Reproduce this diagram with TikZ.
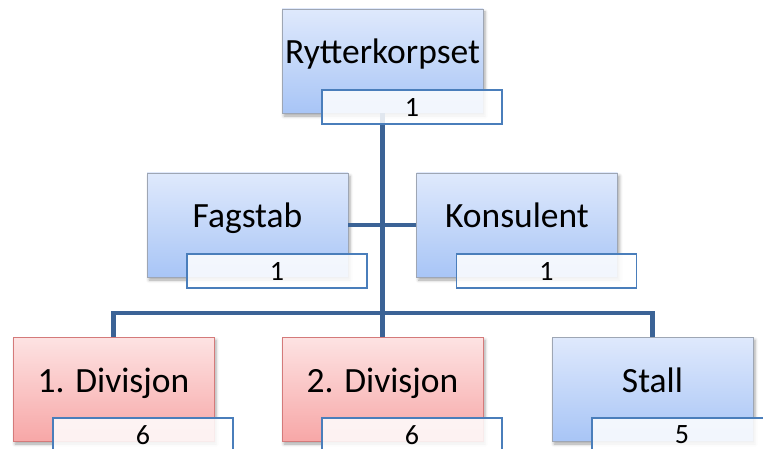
\documentclass[tikz,border=0pt]{standalone}
\usepackage{fontspec}
\setmainfont{Carlito}
\usetikzlibrary{calc,shadows.blur}

\definecolor{bluetop}{HTML}{DFE9FC}
\definecolor{bluebot}{HTML}{A8C5F6}
\definecolor{blueedge}{HTML}{9EA6B4}
\definecolor{redtop}{HTML}{FDE3E3}
\definecolor{redbot}{HTML}{F7A7A7}
\definecolor{rededge}{HTML}{D47A7A}
\definecolor{tagedge}{HTML}{4A7EBB}
\definecolor{linkcol}{HTML}{3B6396}

\tikzset{
  unitbox/.style={draw, line width=0.8pt, minimum width=201pt, minimum height=104pt,
    inner sep=0pt, blur shadow={shadow xshift=2pt, shadow yshift=-3pt,
    shadow blur radius=3pt, shadow opacity=35}},
  bluebox/.style={unitbox, draw=blueedge, top color=bluetop, bottom color=bluebot},
  redbox/.style={unitbox, draw=rededge, top color=redtop, bottom color=redbot},
  title/.style={anchor=base, inner sep=0pt, font=\fontsize{35.5}{42}\selectfont},
  tag/.style={draw=tagedge, line width=1.8pt, fill=white, fill opacity=0.85,
    text opacity=1, minimum width=180pt, minimum height=34pt, inner sep=0pt,
    font=\fontsize{28}{32}\selectfont},
  link/.style={draw=linkcol, line width=4.4pt},
}

\begin{document}
\begin{tikzpicture}[x=1pt, y=-1pt]
  \useasboundingbox (0,0) rectangle (763,449);
  \clip (0,0) rectangle (763,449);

  % boxes
  \node[bluebox] (ryt)   at (382.5,61)  {};
  \node[bluebox] (fag)   at (247.5,225) {};
  \node[bluebox] (kon)   at (517,225)   {};
  \node[redbox]  (div1)  at (113.5,389) {};
  \node[redbox]  (div2)  at (382.5,389) {};
  \node[bluebox] (stall) at (652.5,389) {};

  % connectors
  \coordinate (bar) at (382.5,313);
  \draw[link] (ryt.south) -- (bar);
  \draw[link] (fag.east) -- (fag.east -| ryt.south);
  \draw[link] (kon.west) -- (kon.west -| ryt.south);
  \draw[link, line join=miter] (div1.north) |- (bar) -| (stall.north);
  \draw[link] (bar) -- (div2.north);

  % titles
  \node[title] (tryt)   at ($(ryt.center)+(0,3)$)   {Rytterkorpset};
  \node[title] (tfag)   at ($(fag.center)+(0,3)$)   {Fagstab};
  \node[title] (tkon)   at ($(kon.center)+(0,3)$)   {Konsulent};
  \node[title] (tdiv1)  at ($(div1.center)+(0,3)$)  {1. Divisjon};
  \node[title] (tdiv2)  at ($(div2.center)+(0,3)$)  {2. Divisjon};
  \node[title] (tstall) at ($(stall.center)+(0,3)$) {Stall};

  % head counts
  \node[tag] (nryt)   at ($(ryt.center)+(29.5,46)$)   {1};
  \node[tag] (nfag)   at ($(fag.center)+(29.5,46)$)   {1};
  \node[tag] (nkon)   at ($(kon.center)+(29.5,46)$)   {1};
  \node[tag] (ndiv1)  at ($(div1.center)+(29.5,46)$)  {6};
  \node[tag] (ndiv2)  at ($(div2.center)+(29.5,46)$)  {6};
  \node[tag] (nstall) at ($(stall.center)+(29.5,46)$) {5};
\end{tikzpicture}
\end{document}
